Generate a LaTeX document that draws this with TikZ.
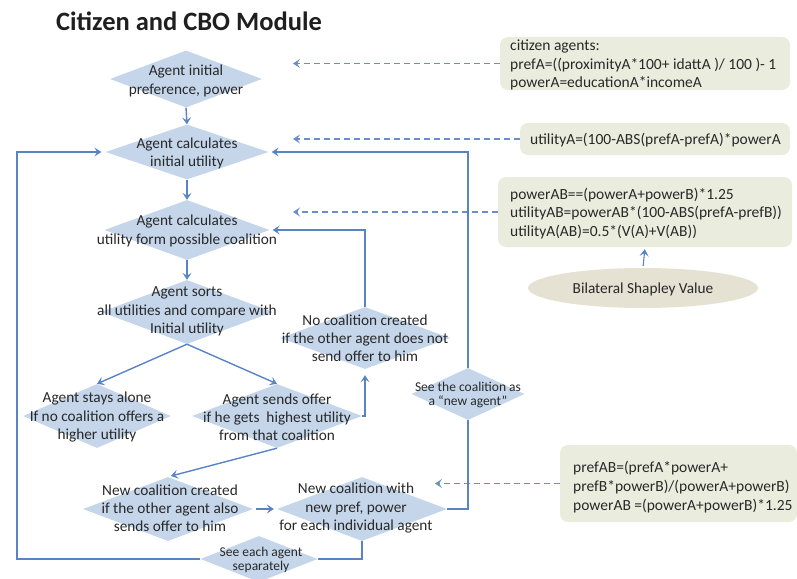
\documentclass[tikz,border=0pt]{standalone}
\usepackage{fontspec}
\setmainfont{Carlito}
\usetikzlibrary{shapes.geometric,arrows.meta}
\definecolor{diafill}{RGB}{197,214,235}
\definecolor{flowc}{RGB}{88,132,196}
\definecolor{dashc}{RGB}{105,142,202}
\definecolor{boxfill}{RGB}{234,237,222}
\definecolor{ellfill}{RGB}{229,226,212}
\definecolor{txtc}{RGB}{40,40,40}
\begin{document}
\begin{tikzpicture}[x=1pt,y=-1pt,
  dia/.style={diamond, fill=diafill, draw=none, inner sep=0pt},
  txt/.style={align=center, inner sep=0pt, text=txtc, font=\fontsize{15.3}{18.2}\selectfont},
  stxt/.style={align=center, inner sep=0pt, text=txtc, font=\fontsize{13.5}{14.5}\selectfont},
  btxt/.style={align=left, inner sep=0pt, text=txtc, anchor=west, font=\fontsize{15.5}{18.7}\selectfont},
  frm/.style={rectangle, rounded corners=8pt, fill=boxfill, draw=none, inner sep=0pt},
  flow/.style={draw=flowc, line width=1.4pt, -{Stealth[length=7pt,width=9pt,inset=3pt]}},
  plain/.style={draw=flowc, line width=1.4pt},
  dsh/.style={draw=dashc, line width=1.4pt, dash pattern=on 6pt off 4pt, -{Stealth[length=7pt,width=9pt,inset=3pt]}}
]
\useasboundingbox (0,0) rectangle (797,578);

\node[font=\fontsize{26.5}{30}\selectfont\bfseries, text=black!88, anchor=west, inner sep=0pt] (title) at (56,21) {Citizen and CBO Module};

% diamonds
\node[dia, minimum width=152, minimum height=57] (d1) at (186,79) {};
\node[dia, minimum width=163, minimum height=55] (d2) at (187,152) {};
\node[dia, minimum width=165, minimum height=60] (d3) at (187,230) {};
\node[dia, minimum width=172, minimum height=64] (d4) at (187,312) {};
\node[dia, minimum width=148, minimum height=64] (d5) at (97,416) {};
\node[dia, minimum width=170, minimum height=64] (d6) at (277,416) {};
\node[dia, minimum width=170, minimum height=62] (d7) at (365,338) {};
\node[dia, minimum width=113, minimum height=52] (d8) at (468,394) {};
\node[dia, minimum width=170, minimum height=64] (d9) at (168,509) {};
\node[dia, minimum width=170, minimum height=64] (d10) at (362,509) {};
\node[dia, minimum width=117, minimum height=46] (d11) at (259,559) {};

% diamond texts
\node[txt] (t1) at (186,81) {Agent initial\\preference, power};
\node[txt] (t2) at (187,153.5) {Agent calculates\\initial utility};
\node[txt] (t3) at (187,231) {Agent calculates\\utility form possible coalition};
\node[txt] (t4) at (187,311.5) {Agent sorts\\all utilities and compare with\\Initial utility};
\node[txt] (t5) at (97,417) {Agent stays alone\\If no coalition offers a\\higher utility};
\node[txt] (t6) at (277,417) {Agent sends offer\\if he gets\ \ highest utility\\from that coalition};
\node[txt] (t7) at (365,338.5) {No coalition created\\if the other agent does not\\send offer to him};
\node[stxt] (t8) at (468,395) {See the coalition as\\a ``new agent''};
\node[txt] (t9) at (170,508) {New coalition created\\if the other agent also\\sends offer to him};
\node[txt] (t10) at (356,508) {New coalition with\\new pref, power\\for each individual agent};
\node[stxt] (t11) at (261,560) {See each agent\\separately};

% formula boxes
\node[frm, minimum width=290, minimum height=53] (bA) at (645,63.5) {};
\node[btxt] (tA) at (510,65) {citizen agents:\\prefA=((proximityA*100+ idattA )/ 100 )- 1\\powerA=educationA*incomeA};
\node[frm, minimum width=270, minimum height=32] (bB) at (655,139) {};
\node[btxt] (tB) at (530,140) {utilityA=(100-ABS(prefA-prefA)*powerA};
\node[frm, minimum width=294, minimum height=70] (bC) at (645,212) {};
\node[btxt] (tC) at (510,213.5) {powerAB==(powerA+powerB)*1.25\\utilityAB=powerAB*(100-ABS(prefA-prefB))\\utilityA(AB)=0.5*(V(A)+V(AB))};
\node[ellipse, fill=ellfill, draw=none, minimum width=230, minimum height=40, inner sep=0pt] (bD) at (643,288) {};
\node[txt] (tD) at (643,289) {Bilateral Shapley Value};
\node[frm, minimum width=237, minimum height=77] (bE) at (678.5,483.5) {};
\node[btxt] (tE) at (573,487) {prefAB=(prefA*powerA+\\prefB*powerB)/(powerA+powerB)\\powerAB =(powerA+powerB)*1.25};

% dashed arrows
\coordinate (tipA) at (293,63.5);
\coordinate (tipB) at (293,139);
\coordinate (tipC) at (293,212);
\coordinate (tipE) at (435,483.5);
\draw[dsh] (bA.west) -- (tipA);
\draw[dsh] (bB.west) -- (tipB);
\draw[dsh] (bC.west) -- (tipC);
\draw[dsh] (bE.west) -- (tipE);
\draw[flow, line width=1.1pt, shorten >=2pt, shorten <=2pt] (bD.north) -- (bC.south);

% flow connectors
\draw[flow] (d1.south) -- (d2.north);
\draw[flow] (d2.south) -- (d3.north);
\draw[flow] (d3.south) -- (d4.north);
\draw[flow] (d4.south) -- (d5.north);
\draw[flow] (d4.south) -- (d6.north);
\draw[flow, shorten >=6pt] (d6.east) -| (d7.south);
\draw[flow, shorten >=3pt] (d7.north) |- (d3.east);
\draw[flow, shorten >=3pt] (d6.south) -- (d9.north);
\draw[flow, shorten <=3pt, shorten >=3pt] (d9.east) -- (d10.west);
\draw[plain] (d10.east) -| (d8.south);
\draw[flow, shorten >=3pt] (d8.north) |- (d2.east);
\draw[plain] (d10.south) |- (d11.east);
\coordinate (lc) at (17,559);
\draw[flow, shorten >=4pt] (d11.west) -- (lc) |- (d2.west);
\end{tikzpicture}
\end{document}
